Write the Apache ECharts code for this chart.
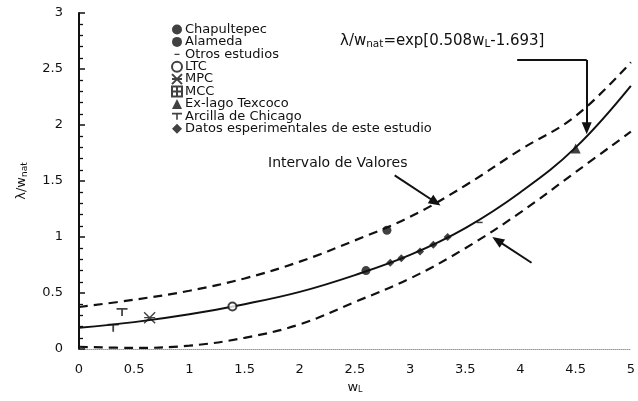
<!DOCTYPE html>
<html>
<head>
<meta charset="utf-8">
<script src="https://cdn.jsdelivr.net/npm/echarts@6/dist/echarts.min.js"></script>
<style>
  html, body { margin: 0; padding: 0; background: #fff; }
  #chart { width: 638px; height: 401px; }
</style>
</head>
<body>
<div id="chart"></div>
<script>
// curves at every 0.5 of w_L
var wL = [0, 0.5, 1, 1.5, 2, 2.5, 3, 3.5, 4, 4.5, 5];
var fitCurve = [0.19, 0.24, 0.31, 0.40, 0.51, 0.66, 0.84, 1.08, 1.40, 1.80, 2.35];
var upperBound = [0.375, 0.44, 0.52, 0.63, 0.78, 0.97, 1.18, 1.46, 1.78, 2.08, 2.56];
var lowerBound = [0.02, 0.01, 0.03, 0.10, 0.22, 0.42, 0.63, 0.90, 1.22, 1.58, 1.94];

// measured points [w_L, lambda/w_nat]
var chapultepec = [[2.60, 0.70]];
var alameda = [[2.79, 1.06]];
var otrosEstudios = [[3.63, 1.13]];
var ltc = [[1.39, 0.38]];
var mpc = [[0.64, 0.28]];
var mcc = [];
var exLago = [[4.50, 1.79]];
var chicago = [[0.39, 0.33], [0.31, 0.19]];
var datosExp = [[2.82, 0.77], [2.92, 0.81], [3.09, 0.87], [3.21, 0.93], [3.34, 1.00]];

var xTicks = ['0', '0.5', '1', '1.5', '2', '2.5', '3', '3.5', '4', '4.5', '5'];

// annotation arrows, in data units
var arrowIntervalo = [[2.86, 1.55], [3.23, 1.31]];
var arrowLower = [[4.10, 0.77], [3.79, 0.97]];
var arrowFormula = [[3.97, 2.58], [4.60, 2.58], [4.60, 1.97]];

function zip(xs, ys) {
   var out = [];
   for (var i = 0; i < xs.length; i++) out.push([xs[i], ys[i]]);
   return out;
}

var FONT = 'DejaVu Sans';
var INK = '#111';

// symbol shapes
var SYM_DASH = 'path://M0,0 L0.01,0 L0.01,0.01 Z M2.5,4.4 L7.5,4.4 L7.5,5.6 L2.5,5.6 Z M9.99,9.99 L10,9.99 L10,10 Z';
var SYM_STAR = 'path://M0,0 L10,10 M10,0 L0,10 M0,5 L10,5';
var SYM_MCC = 'path://M0,0 L10,0 L10,10 L0,10 Z M0,5 L10,5 M5,0 L5,10';
var SYM_T = 'path://M0,0 L10,0 L10,1.6 L5.8,1.6 L5.8,7 L4.2,7 L4.2,1.6 L0,1.6 Z';

var chart = echarts.init(document.getElementById('chart'));

function pointSeries(name, data, symbol, size, style) {
   return {
      name: name,
      type: 'scatter',
      data: data,
      symbol: symbol,
      symbolSize: size,
      itemStyle: style || { color: INK },
      z: 5
   };
}

var hollow = { color: 'rgba(0,0,0,0)', borderColor: INK, borderWidth: 1.4 };

var option = {
   animation: false,
   backgroundColor: '#fff',
   grid: { left: 79, right: 4, top: 13, bottom: 52 },
   legend: {
      orient: 'vertical',
      left: 166,
      top: 18,
      itemGap: -0.6,
      itemWidth: 10,
      itemHeight: 10,
      textStyle: { fontFamily: FONT, fontSize: 13, color: INK, padding: [0, 0, 0, -2] },
      data: ['Chapultepec', 'Alameda', { name: 'Otros estudios', icon: SYM_DASH }, 'LTC', 'MPC', 'MCC',
             'Ex-lago Texcoco', 'Arcilla de Chicago', 'Datos esperimentales de este estudio']
   },
   xAxis: {
      type: 'value',
      min: 0, max: 5, interval: 0.5,
      name: '{a|w}{s|L}',
      nameLocation: 'middle',
      nameGap: 30,
      nameTextStyle: {
         rich: {
            a: { fontFamily: FONT, fontSize: 13, color: INK },
            s: { fontFamily: FONT, fontSize: 8, color: INK, verticalAlign: 'bottom', padding: [6, 0, 0, 0] }
         }
      },
      axisLine: { onZero: false, lineStyle: { color: '#999', type: 'dotted', width: 1 } },
      axisTick: { show: false },
      splitLine: { show: false },
      axisLabel: {
         margin: 14,
         fontFamily: FONT, fontSize: 13, color: INK,
         formatter: function (v) { return xTicks[Math.round(v * 2)]; }
      }
   },
   yAxis: {
      type: 'value',
      min: 0, max: 3, interval: 0.5,
      name: '{a|λ/w}{s|nat}',
      nameLocation: 'middle',
      nameGap: 50,
      nameRotate: 90,
      nameTextStyle: {
         rich: {
            a: { fontFamily: FONT, fontSize: 13, color: INK },
            s: { fontFamily: FONT, fontSize: 9, color: INK, padding: [6, 0, 0, 0] }
         }
      },
      axisLine: { show: true, lineStyle: { color: INK, width: 2 } },
      axisTick: { show: true, inside: true, length: 6, lineStyle: { color: INK, width: 1.5 } },
      minorTick: { show: true, splitNumber: 5, length: 4, lineStyle: { color: INK, width: 1.3 } },
      splitLine: { show: false },
      axisLabel: { margin: 16, fontFamily: FONT, fontSize: 13, color: INK }
   },
   series: [
      {
         name: 'fit', type: 'line', data: zip(wL, fitCurve), smooth: 0.4,
         showSymbol: false, lineStyle: { color: INK, width: 2 }, z: 3
      },
      {
         name: 'upper', type: 'line', data: zip(wL, upperBound), smooth: 0.4,
         showSymbol: false, lineStyle: { color: INK, width: 2.2, type: [9, 6] }, z: 3
      },
      {
         name: 'lower', type: 'line', data: zip(wL, lowerBound), smooth: 0.4,
         showSymbol: false, lineStyle: { color: INK, width: 2.2, type: [9, 6] }, z: 3
      },
      pointSeries('Chapultepec', chapultepec, 'circle', 9),
      pointSeries('Alameda', alameda, 'circle', 9),
      pointSeries('Otros estudios', otrosEstudios, 'rect', [6, 1.5]),
      pointSeries('LTC', ltc, 'emptyCircle', 8, { color: INK, borderColor: INK, borderWidth: 1.4 }),
      pointSeries('MPC', mpc, SYM_STAR, 11, hollow),
      pointSeries('MCC', mcc, SYM_MCC, 9, hollow),
      pointSeries('Ex-lago Texcoco', exLago, 'triangle', 10),
      pointSeries('Arcilla de Chicago', chicago, SYM_T, [11, 8]),
      pointSeries('Datos esperimentales de este estudio', datosExp, 'diamond', 8),
      {
         name: 'arrows', type: 'line', data: [], silent: true,
         markLine: {
            silent: true,
            symbol: ['none', 'triangle'],
            symbolSize: [10, 12],
            label: { show: false },
            lineStyle: { color: INK, width: 2, type: 'solid' },
            data: [
               [{ coord: arrowIntervalo[0] }, { coord: arrowIntervalo[1] }],
               [{ coord: arrowLower[0] }, { coord: arrowLower[1] }],
               [{ coord: arrowFormula[1] }, { coord: arrowFormula[2] }],
               [{ coord: arrowFormula[0], symbol: 'none' }, { coord: arrowFormula[1], symbol: 'none' }]
            ]
         }
      }
   ],
   graphic: [
      {
         type: 'text', left: 340, top: 34,
         style: {
            text: '{a|λ/w}{s|nat}{a|=exp[0.508w}{s|L}{a|-1.693]}',
            rich: {
               a: { fontFamily: FONT, fontSize: 15, fill: INK },
               s: { fontFamily: FONT, fontSize: 10.5, fill: INK, padding: [5, 0, 0, 0] }
            }
         }
      },
      {
         type: 'text', left: 268, top: 156,
         style: { text: 'Intervalo de Valores', font: '14px ' + FONT, fill: INK }
      }
   ]
};

chart.setOption(option);
</script>
</body>
</html>
